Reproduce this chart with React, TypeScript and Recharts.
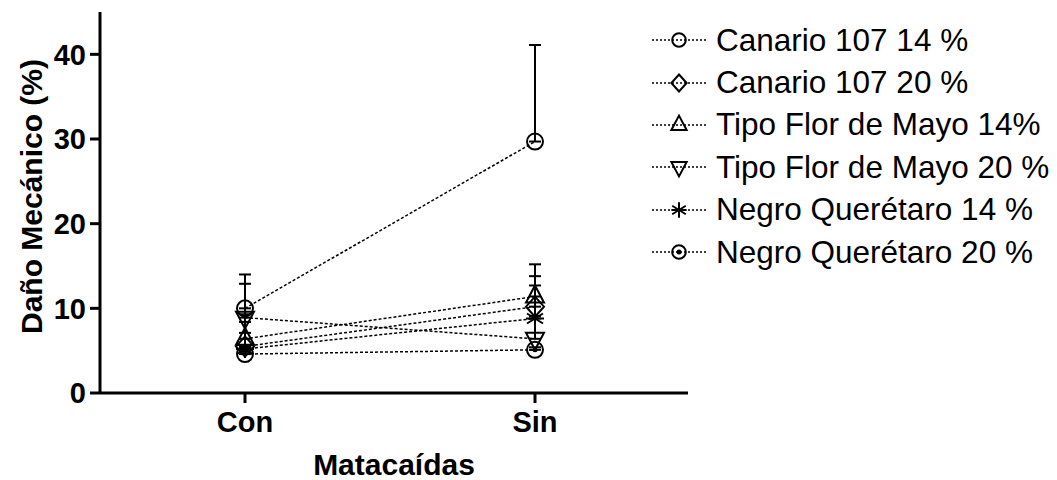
import React from 'react'
import { LineChart, Line, XAxis, YAxis, ErrorBar, Label } from 'recharts'

const categories = ['Con', 'Sin']
const seriesNames = [
  'Canario 107 14 %',
  'Canario 107 20 %',
  'Tipo Flor de Mayo 14%',
  'Tipo Flor de Mayo 20 %',
  'Negro Querétaro 14 %',
  'Negro Querétaro 20 %',
]
const markers = ['circle', 'diamond', 'up', 'down', 'star', 'dotCircle']

const canario14 = [10.0, 29.7]
const canario20 = [5.5, 10.2]
const flor14 = [6.4, 11.4]
const flor20 = [8.9, 6.4]
const negro14 = [5.2, 8.8]
const negro20 = [4.6, 5.1]

const canario14Err = [4.0, 11.4]
const canario20Err = [1.6, 3.6]
const flor14Err = [2.0, 3.8]
const flor20Err = [4.0, 2.7]
const negro14Err = [4.1, 3.9]
const negro20Err = [0.3, 0.3]

const yTicks = [0, 10, 20, 30, 40]

const means = [canario14, canario20, flor14, flor20, negro14, negro20]
const errs = [canario14Err, canario20Err, flor14Err, flor20Err, negro14Err, negro20Err]

const data = categories.map((cat, i) => {
  const row: Record<string, any> = { cat }
  means.forEach((m, s) => {
    row['s' + s] = m[i]
    row['e' + s] = [0, errs[s][i]]
  })
  return row
})

const FONT = '"Liberation Sans", Arial, sans-serif'
const X_TICK_SIZE = 10
const X_TICK_MARGIN = 8

function Marker({ kind, cx, cy, k = 1 }: { kind: string; cx: number; cy: number; k?: number }) {
  const st = { fill: 'none', stroke: '#000', strokeWidth: 2 }
  switch (kind) {
    case 'circle':
      return <circle cx={cx} cy={cy} r={8 * k} {...st} />
    case 'dotCircle':
      return (
        <g>
          <circle cx={cx} cy={cy} r={8 * k} {...st} />
          <circle cx={cx} cy={cy} r={2.5} fill="#000" />
        </g>
      )
    case 'diamond':
      return <polygon points={`${cx},${cy - 10 * k} ${cx + 9 * k},${cy} ${cx},${cy + 10 * k} ${cx - 9 * k},${cy}`} {...st} />
    case 'up':
      return <polygon points={`${cx},${cy - 11 * k} ${cx + 9 * k},${cy + 6 * k} ${cx - 9 * k},${cy + 6 * k}`} {...st} />
    case 'down':
      return <polygon points={`${cx},${cy + 11 * k} ${cx + 9 * k},${cy - 6 * k} ${cx - 9 * k},${cy - 6 * k}`} {...st} />
    default:
      return (
        <g stroke="#000" strokeWidth={2}>
          <line x1={cx} y1={cy - 9 * k} x2={cx} y2={cy + 9 * k} />
          <line x1={cx - 8 * k} y1={cy - 5 * k} x2={cx + 8 * k} y2={cy + 5 * k} />
          <line x1={cx - 8 * k} y1={cy + 5 * k} x2={cx + 8 * k} y2={cy - 5 * k} />
          <line x1={cx - 9 * k} y1={cy} x2={cx + 9 * k} y2={cy} />
        </g>
      )
  }
}

// category tick: a short downward mark at the axis plus the bold label
function XTick({ x, y, payload }: any) {
  const top = y - X_TICK_MARGIN - X_TICK_SIZE
  return (
    <g>
      <rect x={x - 1.5} y={top} width={3} height={X_TICK_SIZE} fill="#000" />
      <text x={x} y={y} dy="0.71em" textAnchor="middle" style={{ fill: '#000', fontSize: 29, fontWeight: 'bold', fontFamily: FONT }}>
        {payload.value}
      </text>
    </g>
  )
}

function LegendBox() {
  return (
    <div style={{ position: 'absolute', left: 642, top: 11, fontFamily: FONT }}>
      {seriesNames.map((name, i) => (
        <div key={name} style={{ display: 'flex', alignItems: 'center', height: 42.4 }}>
          <svg width={58} height={30}>
            <line x1={2} y1={15} x2={56} y2={15} stroke="#000" strokeWidth={1.5} strokeDasharray="2 2" />
            <Marker kind={markers[i]} cx={29} cy={15} k={0.85} />
          </svg>
          <span style={{ fontSize: 31.5, marginLeft: 8, whiteSpace: 'nowrap', color: '#000' }}>{name}</span>
        </div>
      ))}
    </div>
  )
}

function YTitle({ viewBox }: any) {
  const cy = viewBox.y + viewBox.height / 2 - 6
  const cx = 23
  return (
    <text
      x={cx}
      y={cy}
      transform={`rotate(-90 ${cx} ${cy})`}
      textAnchor="middle"
      dominantBaseline="central"
      style={{ fill: '#000', fontSize: 30, fontWeight: 'bold', fontFamily: FONT }}
    >
      Daño Mecánico (%)
    </text>
  )
}

export default function App() {
  return (
    <div style={{ position: 'relative', width: 1041, height: 472 }}>
      <LineChart width={1041} height={472} data={data} margin={{ top: 4, right: 361, left: 0, bottom: 0 }}>
        <XAxis
          dataKey="cat"
          height={87}
          padding={{ left: 145, right: 153 }}
          axisLine={{ stroke: '#000', strokeWidth: 3 }}
          tickLine={false}
          tickSize={X_TICK_SIZE}
          tickMargin={X_TICK_MARGIN}
          tick={<XTick />}
        >
          <Label value="Matacaídas" position="insideBottom" offset={5} style={{ fill: '#000', fontSize: 30, fontWeight: 'bold', fontFamily: FONT }} />
        </XAxis>
        <YAxis
          width={92}
          domain={[0, 45]}
          ticks={yTicks}
          allowDataOverflow
          axisLine={{ stroke: '#000', strokeWidth: 3 }}
          tickLine={{ stroke: '#000', strokeWidth: 3 }}
          tickSize={10}
          tickMargin={4}
          tick={{ fill: '#000', fontSize: 29, fontWeight: 'bold', fontFamily: FONT }}
        >
          <Label content={<YTitle />} />
        </YAxis>
        {means.map((_, s) => (
          <Line
            key={s}
            dataKey={'s' + s}
            name={seriesNames[s]}
            stroke="#000"
            strokeWidth={1.5}
            strokeDasharray="3 2"
            isAnimationActive={false}
            dot={(p: any) => <Marker key={`m${s}-${p.index}`} kind={markers[s]} cx={p.cx} cy={p.cy} />}
            activeDot={false}
          >
            <ErrorBar dataKey={'e' + s} direction="y" width={6} stroke="#000" strokeWidth={2} />
          </Line>
        ))}
      </LineChart>
      <LegendBox />
    </div>
  )
}
